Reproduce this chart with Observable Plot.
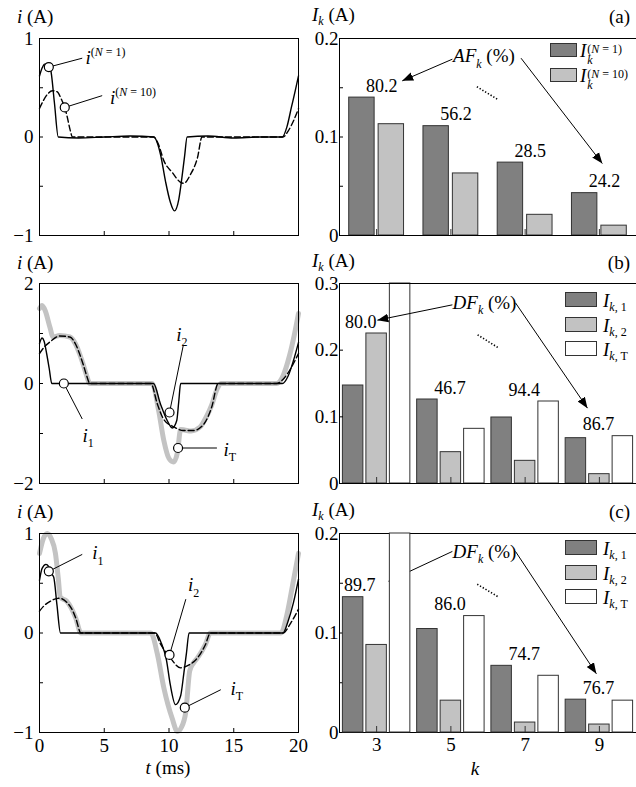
<!DOCTYPE html>
<html>
<head>
<meta charset="utf-8">
<script src="https://cdn.jsdelivr.net/npm/d3@7"></script>
<script src="https://cdn.jsdelivr.net/npm/@observablehq/plot@0.6"></script>
<style>
html,body{margin:0;padding:0;background:#fff;overflow:hidden}
#fig{position:relative;width:636px;height:787px;overflow:hidden;font-family:"Liberation Serif","Times New Roman",serif;color:#000;background:#fff}
.abs{position:absolute;white-space:nowrap;line-height:1;font-size:19px}
.layer{position:absolute}
.layer svg{display:block;overflow:visible;max-width:none !important}
.layer svg, .layer svg text, .layer svg tspan{font-family:"Liberation Serif","Times New Roman",serif !important}
sub{font-size:12px;vertical-align:-4px;line-height:0}
.st{display:inline-block;vertical-align:-7px;font-size:12px;line-height:11px;margin-left:1px}
.st span{display:block}
.box{position:absolute;border:1px solid #333;box-sizing:border-box}
</style>
</head>
<body>
<div id="fig"></div>
<script>
// ---------------- DATA ----------------
const timeTicks = [0, 5, 10, 15, 20];
const harmonics = [3, 5, 7, 9];

// (a) left: measured currents
const tA1  = [0, 0.2, 0.4, 0.6, 0.85, 1.15, 1.45, 3, 5, 7, 8.85, 9.1, 9.35, 9.73, 10.1, 10.42, 10.76, 11.0, 11.2, 11.4, 13, 15, 17, 18.75, 19.1, 19.45, 19.75, 20];
const iA1  = [0.62, 0.70, 0.74, 0.74, 0.69, 0.35, 0, -0.01, 0, 0.01, 0, -0.06, -0.18, -0.45, -0.66, -0.75, -0.63, -0.41, -0.2, 0, 0.01, -0.01, 0, 0, 0.1, 0.3, 0.47, 0.62];
const tA10 = [0, 0.3, 0.65, 1.0, 1.35, 1.7, 1.95, 2.15, 2.35, 2.55, 5, 8.8, 9.2, 9.6, 10.25, 10.9, 11.15, 11.66, 12.2, 12.55, 15, 18.8, 19.2, 19.6, 20];
const iA10 = [0.29, 0.37, 0.44, 0.47, 0.46, 0.38, 0.30, 0.2, 0.08, 0, 0, 0, -0.08, -0.24, -0.36, -0.46, -0.47, -0.38, -0.21, 0, 0, 0, 0.06, 0.16, 0.29];

// (b) left
const tB1 = [0, 0.2, 0.35, 0.55, 0.75, 0.95, 3, 6, 8.8, 9.34, 9.86, 10.25, 10.6, 10.75, 10.9, 14, 18.75, 19.2, 19.6, 20];
const iB1 = [0.8, 0.91, 0.85, 0.6, 0.3, 0, 0, 0, 0, -0.41, -0.74, -0.89, -0.74, -0.37, 0, 0, 0, 0.15, 0.45, 0.82];
const tB2 = [0, 0.4, 0.8, 1.55, 2.35, 2.8, 3.1, 3.4, 3.6, 3.9, 6, 8.6, 9.1, 9.6, 10.4, 11.1, 11.9, 12.7, 13.3, 13.8, 16, 18.3, 18.8, 19.4, 20];
const iB2 = [0.6, 0.74, 0.83, 0.95, 0.93, 0.78, 0.59, 0.36, 0.19, 0, 0, 0, -0.41, -0.72, -0.87, -0.94, -0.94, -0.81, -0.47, 0, 0, 0, 0.08, 0.3, 0.6];
const tBT = [0, 0.2, 0.45, 0.8, 1.05, 1.55, 2.35, 2.8, 3.1, 3.4, 3.6, 3.9, 6, 8.7, 9.2, 9.6, 10.0, 10.35, 10.65, 10.9, 11.2, 11.7, 12.4, 12.9, 13.3, 13.7, 14.0, 16, 18.3, 18.8, 19.3, 19.7, 20];
const iBT = [1.50, 1.56, 1.45, 1.13, 0.93, 0.96, 0.93, 0.78, 0.59, 0.36, 0.19, 0, 0, 0, -0.54, -1.14, -1.50, -1.57, -1.38, -0.92, -0.93, -0.95, -0.87, -0.66, -0.43, -0.12, 0, 0, 0, 0.15, 0.55, 1.0, 1.40];

// (c) left
const tC1 = [0, 0.2, 0.5, 0.7, 0.9, 1.1, 1.35, 1.62, 4, 8.96, 9.4, 9.8, 10.1, 10.5, 10.9, 11.15, 11.35, 11.55, 15, 18.8, 19.2, 19.6, 20];
const iC1 = [0.53, 0.65, 0.69, 0.67, 0.6, 0.56, 0.28, 0, 0, 0, -0.1, -0.27, -0.52, -0.72, -0.63, -0.4, -0.2, 0, 0, 0, 0.12, 0.3, 0.54];
const tC2 = [0, 0.4, 0.85, 1.5, 2.1, 2.5, 2.8, 3.2, 6, 8.9, 9.34, 10.1, 10.9, 11.4, 11.9, 12.2, 12.8, 13.2, 16, 18.8, 19.4, 20];
const iC2 = [0.22, 0.28, 0.32, 0.35, 0.31, 0.24, 0.15, 0, 0, 0, -0.11, -0.25, -0.35, -0.33, -0.29, -0.25, -0.12, 0, 0, 0, 0.1, 0.24];
const tCT = [0, 0.3, 0.6, 0.9, 1.23, 1.45, 1.6, 2.1, 2.8, 3.2, 6, 8.6, 9.1, 9.6, 10.25, 10.65, 10.95, 11.3, 11.6, 11.9, 12.2, 12.8, 13.2, 16, 18.65, 19.1, 19.5, 20];
const iCT = [0.8, 0.95, 1.0, 0.95, 0.8, 0.55, 0.36, 0.32, 0.15, 0, 0, 0, -0.21, -0.55, -0.86, -0.99, -0.95, -0.79, -0.38, -0.3, -0.25, -0.12, 0, 0, 0, 0.18, 0.45, 0.8];

// harmonic amplitudes (A)
const a_IkN1  = [0.140, 0.111, 0.074, 0.043];
const a_IkN10 = [0.113, 0.063, 0.021, 0.010];
const a_AF    = ["80.2", "56.2", "28.5", "24.2"];
const b_Ik1 = [0.147, 0.126, 0.099, 0.068];
const b_Ik2 = [0.225, 0.047, 0.034, 0.014];
const b_IkT = [0.300, 0.082, 0.123, 0.071];
const b_DF  = ["80.0", "46.7", "94.4", "86.7"];
const c_Ik1 = [0.136, 0.104, 0.067, 0.033];
const c_Ik2 = [0.088, 0.032, 0.010, 0.008];
const c_IkT = [0.200, 0.117, 0.057, 0.032];
const c_DF  = ["89.7", "86.0", "74.7", "76.7"];

// annotation callouts (data units): marker (mt,mi), leader end (lt,li), label (tt,ti)
const annA = [
  {mt: 0.72, mi: 0.71, lt: 3.3, li: 0.80, tt: 3.55, ti: 0.80, text: "*i*^{(*N* = 1)}", anchor: "start"},
  {mt: 1.95, mi: 0.30, lt: 4.84, li: 0.42, tt: 5.45, ti: 0.40, text: "*i*^{(*N* = 10)}", anchor: "start"}
];
const annB = [
  {mt: 1.88, mi: 0, lt: 3.3, li: -0.71, tt: 3.75, ti: -1.04, text: "*i*_{1}", anchor: "middle"},
  {mt: 10.04, mi: -0.58, lt: 11.1, li: 0.76, tt: 11.0, ti: 0.98, text: "*i*_{2}", anchor: "middle"},
  {mt: 10.7, mi: -1.29, lt: 13.7, li: -1.29, tt: 14.2, ti: -1.32, text: "*i*_{T}", anchor: "start"}
];
const annC = [
  {mt: 0.72, mi: 0.62, lt: 3.3, li: 0.79, tt: 4.07, ti: 0.80, text: "*i*_{1}", anchor: "start"},
  {mt: 10.04, mi: -0.22, lt: 11.3, li: 0.34, tt: 11.9, ti: 0.48, text: "*i*_{2}", anchor: "middle"},
  {mt: 11.22, mi: -0.75, lt: 14.0, li: -0.57, tt: 14.75, ti: -0.56, text: "*i*_{T}", anchor: "start"}
];
// right-panel arrows (k units, A)
const arrowsA = [{k1: 5.04, v1: 0.179, k2: 3.69, v2: 0.157}, {k1: 6.89, v1: 0.180, k2: 9.08, v2: 0.073}];
const dotsA   = [{k1: 5.70, v1: 0.151, k2: 6.27, v2: 0.138}];
const labelA  = {k: 5.89, v: 0.182, text: "*AF*_{*k*} (%)"};
const arrowsB = [{k1: 5.04, v1: 0.268, k2: 3.02, v2: 0.245}, {k1: 6.74, v1: 0.271, k2: 8.68, v2: 0.113}];
const dotsB   = [{k1: 5.72, v1: 0.223, k2: 6.28, v2: 0.2035}];
const labelB  = {k: 5.906, v: 0.271, text: "*DF*_{*k*} (%)"};
const arrowsC = [{k1: 5.04, v1: 0.182, k2: 3.32, v2: 0.152}, {k1: 6.74, v1: 0.182, k2: 8.92, v2: 0.059}];
const dotsC   = [{k1: 5.71, v1: 0.149, k2: 6.29, v2: 0.136}];
const labelC  = {k: 5.906, v: 0.182, text: "*DF*_{*k*} (%)"};

// ---------------- HELPERS ----------------
const FONT = '"Liberation Serif", "Times New Roman", serif';
const NS = "http://www.w3.org/2000/svg";
const DARK = "#808080", LIGHT = "#c2c2c2", WHITE = "#ffffff", GRAYLINE = "#c3c3c3";
const fig = document.getElementById("fig");
const svgs = [];

function addLayer(node, left, top, w, z) {
  const d = document.createElement("div");
  d.className = "layer";
  d.style.left = left + "px"; d.style.top = top + "px"; d.style.width = w + "px"; d.style.zIndex = z;
  d.appendChild(node); fig.appendChild(d); svgs.push(node);
  return node;
}
function addHTML(h, left, top, opts = {}) {
  const d = document.createElement("div");
  d.className = "abs"; d.innerHTML = h;
  d.style.left = left + "px"; d.style.top = top + "px";
  if (opts.center) d.style.transform = "translateX(-50%)";
  if (opts.right != null) { d.style.left = "auto"; d.style.right = opts.right + "px"; }
  d.style.zIndex = opts.z ?? 10;
  fig.appendChild(d); return d;
}
function parseRich(s) {
  const runs = []; let italic = false, level = 0, stack = false, buf = "", i = 0;
  const push = () => { if (buf) { runs.push({text: buf, italic, level, stack}); stack = false; } buf = ""; };
  while (i < s.length) {
    const c = s[i];
    if (c === "*") { push(); italic = !italic; i++; }
    else if ((c === "_" || c === "^") && (s[i + 1] === "{" || (s[i + 1] === "!" && s[i + 2] === "{"))) {
      push(); const st = s[i + 1] === "!"; level = c === "_" ? -1 : 1; stack = st; i += st ? 3 : 2;
    } else if (c === "}" && level !== 0) { push(); level = 0; stack = false; i++; }
    else { buf += c; i++; }
  }
  push();
  return runs;
}
function forceFont(root) {
  root.setAttribute("font-family", FONT);
  root.style.setProperty("font-family", FONT, "important");
  root.querySelectorAll("g, text, tspan").forEach(el => {
    if (el.hasAttribute("font-family")) el.setAttribute("font-family", FONT);
    el.style.setProperty("font-family", FONT, "important");
  });
}
function richify(root) {
  root.querySelectorAll("text").forEach(t => {
    const s = t.textContent;
    if (!/[*]|_\{|\^!?\{/.test(s)) return;
    const fs = parseFloat(getComputedStyle(t).fontSize) || 19;
    const runs = parseRich(s);
    while (t.firstChild) t.removeChild(t.firstChild);
    let shift = 0, subLen = 0;
    for (const r of runs) {
      const ts = document.createElementNS(NS, "tspan");
      ts.textContent = r.text;
      if (r.italic) ts.setAttribute("font-style", "italic");
      const target = r.level === 1 ? -0.42 * fs : r.level === -1 ? 0.28 * fs : 0;
      if (r.level) ts.setAttribute("font-size", (0.63 * fs) + "px");
      if (target - shift) ts.setAttribute("dy", target - shift);
      shift = target;
      if (r.stack && subLen) ts.setAttribute("dx", -subLen);
      t.appendChild(ts);
      if (r.level === -1) subLen += ts.getComputedTextLength(); else if (r.level === 0) subLen = 0;
    }
  });
}
function fillArrowheads(svg) {
  svg.querySelectorAll("marker").forEach(m => {
    m.setAttribute("viewBox", "-11 -5 11 10");
    m.setAttribute("markerWidth", 11); m.setAttribute("markerHeight", 10);
    m.setAttribute("markerUnits", "userSpaceOnUse");
    m.setAttribute("refX", 0); m.setAttribute("refY", 0);
    m.setAttribute("orient", "auto");
    m.setAttribute("fill", "#000"); m.setAttribute("stroke", "none");
    while (m.firstChild) m.removeChild(m.firstChild);
    const p = document.createElementNS(NS, "path");
    p.setAttribute("d", "M-11,-4.3L0,0L-11,4.3Z");
    m.appendChild(p);
  });
}
const fmtSigned = d => (d < 0 ? "\u2212" + (-d) : String(d));
const styleBase = {fontFamily: FONT, fontSize: "19px", background: "transparent", overflow: "visible"};

// ---------------- LEFT PANELS ----------------
function leftPanel({top, height, mt, mb, yDomain, yTicks, yLabeled, curves, ann, xLabels}) {
  const svg = Plot.plot({
    width: 318, height, marginLeft: 39, marginRight: 20, marginTop: mt, marginBottom: mb,
    style: styleBase,
    x: {domain: [0, 20], axis: null},
    y: {domain: yDomain, axis: null},
    marks: [
      ...curves.map(c => Plot.line(c.t, {x: c.t, y: c.i, stroke: c.stroke, strokeWidth: c.width, strokeDasharray: c.dash, curve: "monotone-x", strokeLinejoin: "round"})),
      Plot.frame({stroke: "#000", strokeWidth: 1}),
      Plot.axisY(yTicks, {anchor: "left", tickSize: -4, tickPadding: 10, tickFormat: d => yLabeled.includes(d) ? fmtSigned(d) : "", label: null, fontFamily: FONT}),
      Plot.axisX(timeTicks, {anchor: "bottom", tickSize: -4, tickPadding: 10, tickFormat: d => xLabels ? String(d) : "", label: null, fontFamily: FONT}),
      Plot.link(ann, {x1: "mt", y1: "mi", x2: "lt", y2: "li", stroke: "#000", strokeWidth: 1}),
      Plot.dot(ann, {x: "mt", y: "mi", r: 4.5, fill: "#fff", stroke: "#000", strokeWidth: 1.2}),
      Plot.text(ann, {filter: d => d.anchor === "start", x: "tt", y: "ti", text: "text", textAnchor: "start", lineAnchor: "middle", fontSize: 19, fontFamily: FONT}),
      Plot.text(ann, {filter: d => d.anchor === "middle", x: "tt", y: "ti", text: "text", textAnchor: "middle", lineAnchor: "middle", fontSize: 19, fontFamily: FONT})
    ]
  });
  addLayer(svg, 0, top, 318, 2);
}

const solid = (t, i) => ({t, i, stroke: "#000", width: 1.4});
const dashed = (t, i) => ({t, i, stroke: "#000", width: 1.4, dash: "6,3"});
const grayT = (t, i) => ({t, i, stroke: GRAYLINE, width: 5});

leftPanel({top: 0, height: 250, mt: 38, mb: 15, yDomain: [-1, 1], yTicks: [-1, -0.5, 0, 0.5, 1], yLabeled: [-1, 0, 1],
  curves: [dashed(tA10, iA10), solid(tA1, iA1)], ann: annA, xLabels: false});
leftPanel({top: 250, height: 250, mt: 33, mb: 17, yDomain: [-2, 2], yTicks: [-2, -1, 0, 1, 2], yLabeled: [-2, 0, 2],
  curves: [grayT(tBT, iBT), dashed(tB2, iB2), solid(tB1, iB1)], ann: annB, xLabels: false});
leftPanel({top: 500, height: 287, mt: 33, mb: 55, yDomain: [-1, 1], yTicks: [-1, -0.5, 0, 0.5, 1], yLabeled: [-1, 0, 1],
  curves: [grayT(tCT, iCT), dashed(tC2, iC2), solid(tC1, iC1)], ann: annC, xLabels: true});

// ---------------- RIGHT PANELS ----------------
function rightPanel({top, height, mt, mb, yMax, yTicks, yLabeled, series, pad, pct, kLabels, arrows, dots, label, overlayOnTop}) {
  const names = series.map(s => s.name);
  const rows = harmonics.flatMap((k, j) => series.map(s => ({k, series: s.name, value: s.values[j]})));
  const common = {width: 340, height, marginLeft: 39, marginRight: 4, marginTop: mt, marginBottom: mb, style: styleBase};
  const bars = Plot.plot({
    ...common,
    fx: {domain: harmonics, padding: 0, round: false, label: null},
    x: {domain: names, paddingInner: pad[0], paddingOuter: pad[1], round: false, axis: null},
    y: {domain: [0, yMax], axis: null},
    color: {domain: names, range: series.map(s => s.fill)},
    marks: [
      Plot.barY(rows, {fx: "k", x: "series", y: "value", fill: "series", stroke: "#333", strokeWidth: 1}),
      Plot.axisFx({anchor: "bottom", tickSize: -6, tickPadding: 11, tickFormat: d => kLabels ? String(d) : "", label: null, stroke: "#333", fontFamily: FONT})
    ]
  });
  const pctRows = harmonics.map((k, j) => {
    const vals = series.map(s => s.values[j]);
    const clipped = vals.some(v => v >= yMax - 1e-9);
    return {k, y: d3.max(vals.filter(v => v < yMax - 1e-9)), text: pct.values[j], clipped};
  });
  const overlay = Plot.plot({
    ...common,
    x: {domain: [2, 10], axis: null},
    y: {domain: [0, yMax], axis: null},
    marks: [
      Plot.frame({stroke: "#000", strokeWidth: 1}),
      Plot.axisY(yTicks, {anchor: "left", tickSize: -4, tickPadding: 5, tickFormat: d => yLabeled.includes(d) ? (d === 0 ? "0" : d.toFixed(1)) : "", label: null, fontFamily: FONT}),
      Plot.link(arrows, {x1: "k1", y1: "v1", x2: "k2", y2: "v2", stroke: "#000", strokeWidth: 1, markerEnd: "arrow"}),
      Plot.link(dots, {x1: "k1", y1: "v1", x2: "k2", y2: "v2", stroke: "#000", strokeWidth: 1.6, strokeDasharray: "1.3,1.9"}),
      Plot.text([label], {x: "k", y: "v", text: "text", textAnchor: "middle", lineAnchor: "middle", fontSize: 19, fontFamily: FONT}),
      Plot.text(pctRows, {filter: d => d.clipped, x: "k", y: "y", text: "text", lineAnchor: "bottom", dy: -6, dx: pct.dxClipped, fontSize: 18, fontFamily: FONT}),
      Plot.text(pctRows, {filter: d => !d.clipped, x: "k", y: "y", text: "text", lineAnchor: "bottom", dy: -6, dx: pct.dx, fontSize: 18, fontFamily: FONT})
    ]
  });
  fillArrowheads(overlay);
  addLayer(bars, 300, top, 340, 3);
  addLayer(overlay, 300, top, 340, overlayOnTop ? 4 : 2);
}

rightPanel({top: 0, height: 250, mt: 38, mb: 15, yMax: 0.2, yTicks: [0, 0.05, 0.1, 0.15, 0.2], yLabeled: [0, 0.1, 0.2],
  series: [{name: "N1", values: a_IkN1, fill: DARK}, {name: "N10", values: a_IkN10, fill: LIGHT}],
  pad: [0.136, 0.33], pct: {values: a_AF, dx: 5, dxClipped: -16}, kLabels: false,
  arrows: arrowsA, dots: dotsA, label: labelA, overlayOnTop: true});
rightPanel({top: 250, height: 250, mt: 33, mb: 17, yMax: 0.3, yTicks: [0, 0.1, 0.2, 0.3], yLabeled: [0, 0.1, 0.2, 0.3],
  series: [{name: "I1", values: b_Ik1, fill: DARK}, {name: "I2", values: b_Ik2, fill: LIGHT}, {name: "IT", values: b_IkT, fill: WHITE}],
  pad: [0.128, 0.145], pct: {values: b_DF, dx: -1, dxClipped: -16}, kLabels: false,
  arrows: arrowsB, dots: dotsB, label: labelB, overlayOnTop: true});
rightPanel({top: 500, height: 287, mt: 33, mb: 55, yMax: 0.2, yTicks: [0, 0.05, 0.1, 0.15, 0.2], yLabeled: [0, 0.1, 0.2],
  series: [{name: "I1", values: c_Ik1, fill: DARK}, {name: "I2", values: c_Ik2, fill: LIGHT}, {name: "IT", values: c_IkT, fill: WHITE}],
  pad: [0.128, 0.145], pct: {values: c_DF, dx: -1, dxClipped: -17}, kLabels: true,
  arrows: arrowsC, dots: dotsC, label: labelC, overlayOnTop: false});

// ---------------- TITLES ----------------
const iTitle = "<i>i</i> (A)";
const IkTitle = "<i>I</i><sub><i>k</i></sub> (A)";
[[7, "(a)"], [253, "(b)"], [502, "(c)"]].forEach(([top, tag]) => {
  addHTML(iTitle, 17, top);
  addHTML(IkTitle, 312, top - 2);
  addHTML(tag, 0, top, {right: 6});
});
addHTML("<i>t</i> (ms)", 168, 758, {center: true});
addHTML("<i>k</i>", 475, 759, {center: true});

// ---------------- LEGENDS ----------------
const stackSS = (sup, sub) => `<span class="st"><span>${sup}</span><span>${sub}</span></span>`;
function legend(items, {left, top, w, h, step, labelLeft, coverTop}) {
  const last = top + (items.length - 1) * step + h;
  const cover = document.createElement("div");
  Object.assign(cover.style, {position: "absolute", left: (left - 4) + "px", top: coverTop + "px", width: (640 - left + 4) + "px", height: (last + 6 - coverTop) + "px", background: "#fff", zIndex: 5});
  fig.appendChild(cover);
  items.forEach((it, i) => {
    const b = document.createElement("div");
    b.className = "box";
    Object.assign(b.style, {left: left + "px", top: (top + i * step) + "px", width: w + "px", height: h + "px", background: it.fill, zIndex: 6});
    fig.appendChild(b);
    addHTML(it.label, labelLeft, top + i * step + h - 16, {z: 6});
  });
}
legend([
  {fill: DARK, label: "<i>I</i>" + stackSS("(<i>N</i> = 1)", "<i>k</i>")},
  {fill: LIGHT, label: "<i>I</i>" + stackSS("(<i>N</i> = 10)", "<i>k</i>")}
], {left: 550, top: 43, w: 27, h: 14, step: 25, labelLeft: 580, coverTop: 39});
const legBC = [
  {fill: DARK, label: "<i>I</i><sub><i>k</i>, 1</sub>"},
  {fill: LIGHT, label: "<i>I</i><sub><i>k</i>, 2</sub>"},
  {fill: WHITE, label: "<i>I</i><sub><i>k</i>, T</sub>"}
];
legend(legBC, {left: 565, top: 292, w: 32, h: 15, step: 24.5, labelLeft: 603, coverTop: 285});
legend(legBC, {left: 565, top: 540, w: 32, h: 15, step: 24.5, labelLeft: 603, coverTop: 535});

// fonts and rich text inside SVGs
svgs.forEach(forceFont);
svgs.forEach(richify);
</script>
</body>
</html>
